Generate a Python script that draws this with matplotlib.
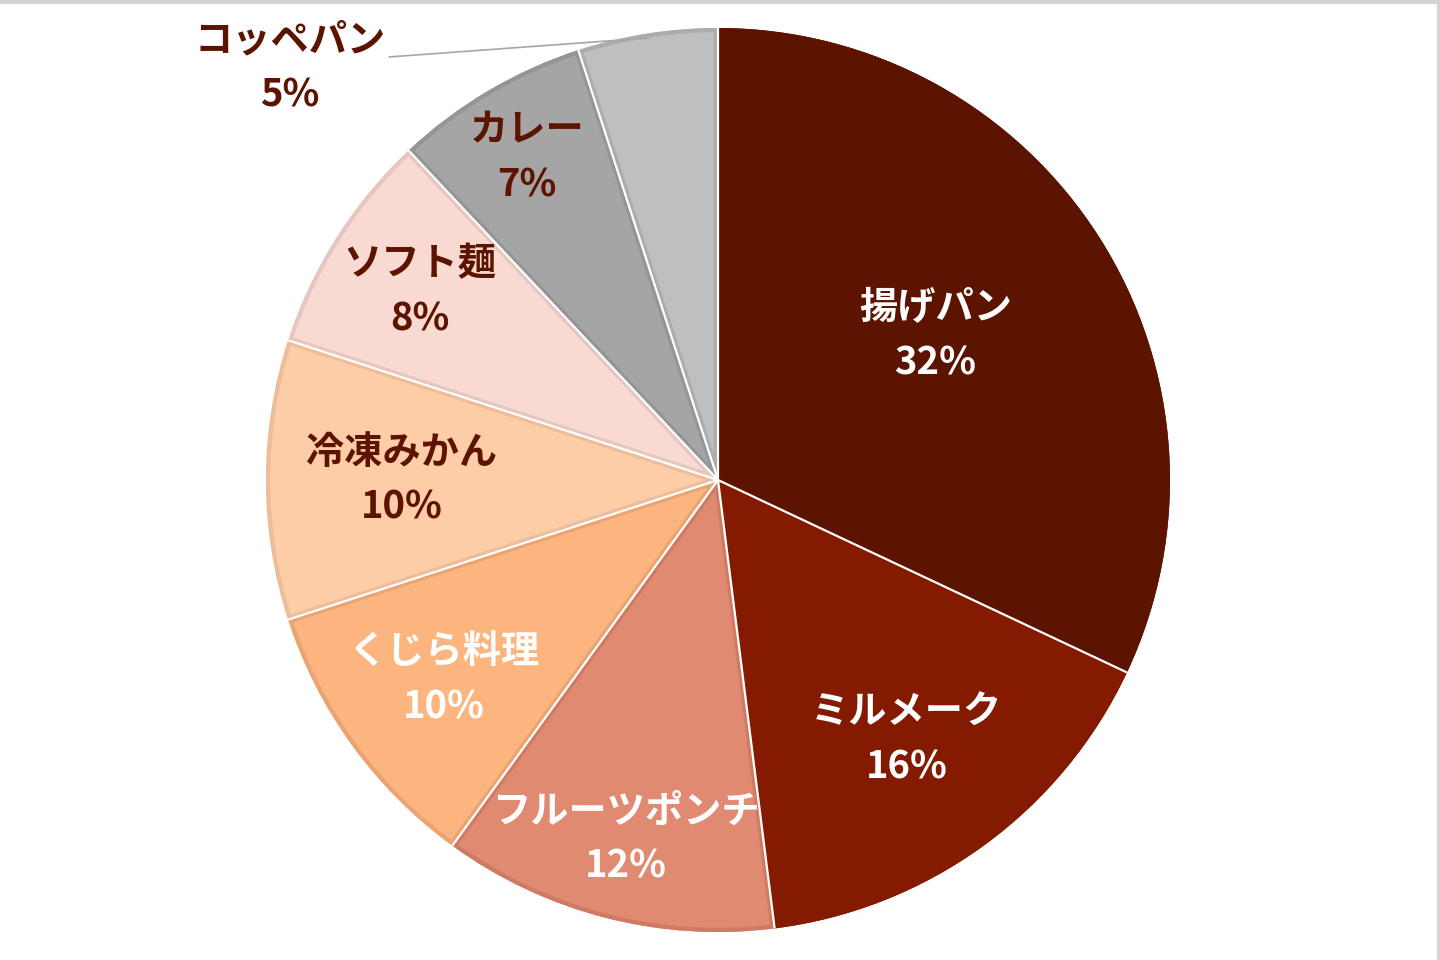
import matplotlib
matplotlib.use("Agg")
import matplotlib.pyplot as plt
from matplotlib.lines import Line2D
from matplotlib.patches import Wedge
import numpy as np

plt.rcParams['font.family'] = ['Noto Sans CJK JP', 'DejaVu Sans']

categories = ["揚げパン", "ミルメーク", "フルーツポンチ", "くじら料理",
              "冷凍みかん", "ソフト麺", "カレー", "コッペパン"]
values = [32, 16, 12, 10, 10, 8, 7, 5]

fill_colors = ["#5C1400", "#841A00", "#E08A72", "#FDB57F",
               "#FDCDA8", "#F9DAD2", "#A5A5A5", "#BFBFBF"]
border_colors = ["#5C1400", "#841A00", "#CF7A64", "#EAA472",
                 "#EDBC98", "#E6C6C0", "#959595", "#ACACAC"]
text_colors = ["white", "white", "white", "white",
               "#5C1400", "#5C1400", "#5C1400", "#5C1400"]
label_radius = [0.57, 0.71, 0.82, 0.75, 0.70, 0.78, 0.83, None]

W, H = 1440, 960
cx, cy, R = 718, 480, 452
fig = plt.figure(figsize=(W / 100, H / 100), dpi=100)
ax = fig.add_axes([(cx - R) / W, (H - cy - R) / H, 2 * R / W, 2 * R / H])

wedges, _ = ax.pie(values, colors=fill_colors, startangle=90, counterclock=False,
                   radius=1, wedgeprops=dict(linewidth=0))
ax.set_xlim(-1, 1)
ax.set_ylim(-1, 1)
ax.set_aspect('equal')
ax.axis('off')

for w, bc in zip(wedges, border_colors):
    clip = Wedge(w.center, w.r, w.theta1, w.theta2, transform=ax.transData)
    b = Wedge(w.center, w.r, w.theta1, w.theta2, facecolor='none',
              edgecolor=bc, linewidth=6, zorder=w.get_zorder() + 0.1)
    ax.add_patch(b)
    b.set_clip_path(clip)

for w in wedges:
    t = np.deg2rad(w.theta1)
    ax.add_line(Line2D([0, np.cos(t)], [0, np.sin(t)], color='white', lw=1.6,
                       zorder=5, solid_capstyle='butt'))

fs = 27.5
dy = 27.5 / R
for w, name, v, tc, lr in zip(wedges, categories, values, text_colors, label_radius):
    mid = np.deg2rad((w.theta1 + w.theta2) / 2)
    if lr is not None:
        x, y = lr * np.cos(mid), lr * np.sin(mid)
        if name == "揚げパン":
            y += 0.015
    else:
        x, y = -0.947, 0.912
        ax.add_line(Line2D([-0.727, 0.99 * np.cos(mid)], [0.936, 0.99 * np.sin(mid)],
                           color='#A6A6A6', lw=1.2, clip_on=False, zorder=6))
    ax.text(x, y + dy, name, ha='center', va='center', fontsize=fs,
            fontweight='bold', color=tc, clip_on=False, zorder=7)
    ax.text(x, y - dy, f"{v}%", ha='center', va='center', fontsize=fs,
            fontweight='bold', color=tc, clip_on=False, zorder=7)

fig.add_artist(Line2D([0, 1], [1 - 1.5 / H, 1 - 1.5 / H], transform=fig.transFigure,
                      color='#D4D4D4', lw=3))
fig.add_artist(Line2D([1 - 1.5 / W, 1 - 1.5 / W], [0, 1], transform=fig.transFigure,
                      color='#D4D4D4', lw=3))

fig.savefig("out.png", dpi=100, facecolor='white')
